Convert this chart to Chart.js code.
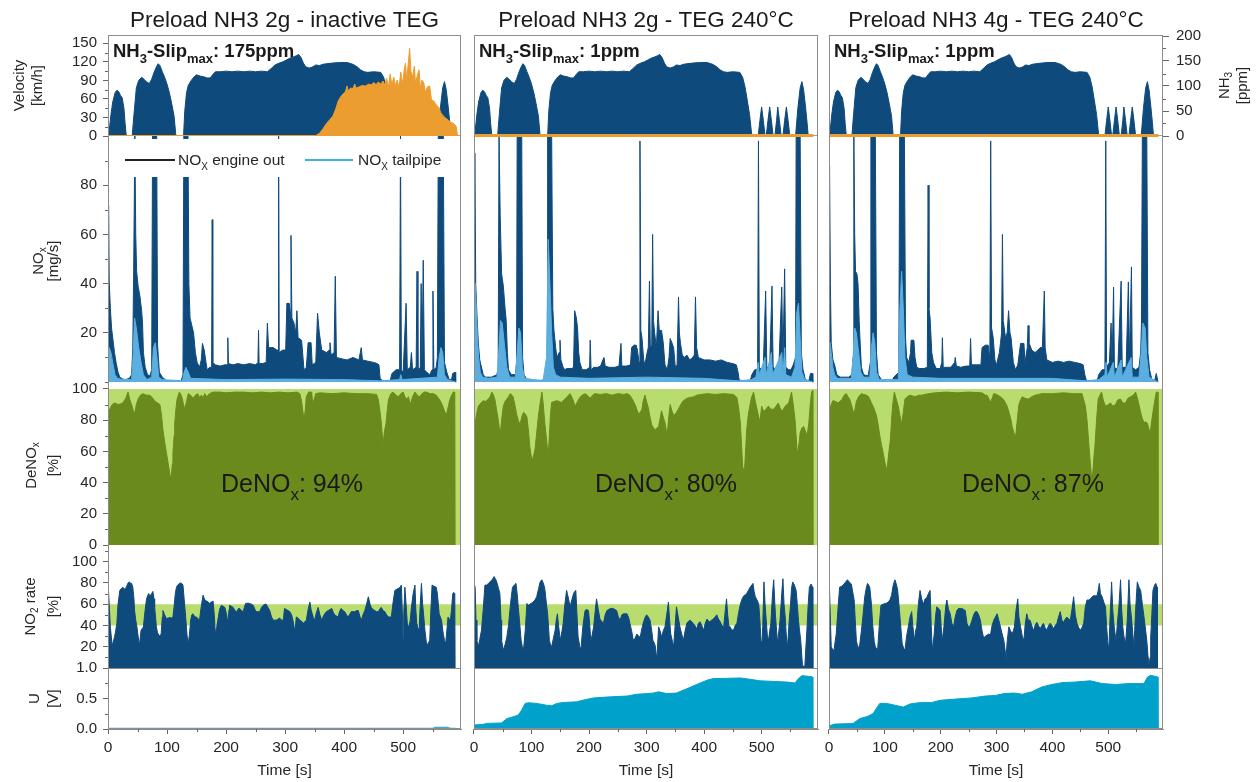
<!DOCTYPE html>
<html>
<head>
<meta charset="utf-8">
<script src="https://cdn.jsdelivr.net/npm/chart.js@4.4.1/dist/chart.umd.min.js"></script>
<style>
  html, body { margin: 0; padding: 0; background: #fff; }
  #wrap { position: relative; width: 1260px; height: 782px; overflow: hidden; }
  #wrap canvas { position: absolute; left: 0; top: 0; }
</style>
</head>
<body>
<div id="wrap">
  <canvas id="c1" width="1260" height="782"></canvas>
  <canvas id="c2" width="1260" height="782"></canvas>
  <canvas id="c3" width="1260" height="782"></canvas>
</div>
<script>
// ---- data: [time s, value] ----
const titles = ['Preload NH3 2g - inactive TEG', 'Preload NH3 2g - TEG 240°C', 'Preload NH3 4g - TEG 240°C'];
const deNOxMean = ['94%', '80%', '87%'];

const timeTicks = [0, 100, 200, 300, 400, 500];
const timeMinor = [50, 150, 250, 350, 450, 550];
const velTicks = [0, 30, 60, 90, 120, 150];
const velMinor = [15, 45, 75, 105, 135];
const noxTicks = [20, 40, 60, 80];
const noxMinor = [0, 10, 30, 50, 70, 90];
const deNOxTicks = [0, 20, 40, 60, 80, 100];
const deNOxMinor = [10, 30, 50, 70, 90];
const no2Ticks = [20, 40, 60, 80, 100];
const no2Minor = [10, 30, 50, 70, 90, 110];
const uTicks = [0, 0.5, 1.0];
const uMinor = [0.25, 0.75];
const nh3Ticks = [0, 50, 100, 150, 200];
const nh3Minor = [25, 75, 125, 175];
const no2Window = [40, 60];

// vehicle speed, km/h (same drive cycle for every test)
const velocity = [
  [0,0],[2,8],[5,35],[8,55],[12,70],[15,74],[18,72],[21,66],[24,62],[27,45],[29,20],[31,0],
  [41,0],[44,35],[48,78],[52,90],[57,95],[61,92],[65,88],[70,85],[74,92],[78,103],[82,112],[85,117],[88,114],[92,104],[96,95],[100,84],[104,70],[108,52],[112,32],[115,0],
  [128,0],[130,40],[133,70],[136,82],[141,90],[146,96],[150,99],[156,97],[162,96],[168,94],[173,94],[178,100],[182,104],[190,104],[200,105],[210,104],[220,105],[230,104],[240,105],[250,104],[260,105],[270,104],[276,109],[283,115],[290,118],[296,120],[302,123],[308,126],[314,128],[319,130],[323,132],[327,127],[331,118],[335,112],[341,110],[347,112],[352,115],[358,114],[364,116],[370,117],[380,118],[392,119],[405,119],[415,116],[422,112],[428,107],[434,104],[440,103],[450,104],[462,103],[467,95],[471,80],[475,58],[479,35],[483,0],
  [494,0],[497,25],[500,47],[503,25],[506,0],
  [508,0],[511,25],[514,47],[517,25],[520,0],
  [523,0],[526,25],[528,47],[531,25],[534,0],
  [537,0],[540,25],[543,47],[546,25],[549,0],
  [559,0],[563,45],[567,78],[570,88],[573,75],[576,50],[579,22],[581,0],[598,0]
];

// NH3 slip, ppm
const nh3Slip1 = [
  [0,1],[352,1],[358,5],[364,14],[370,25],[376,33],[381,40],[386,55],[390,70],[394,78],[398,84],[402,88],[405,100],[407,90],[411,96],[415,95],[418,104],[420,96],[425,98],[430,101],[436,100],[442,104],[446,102],[450,107],[454,103],[458,108],[462,104],[466,110],[469,102],[472,116],[475,98],[478,124],[481,102],[484,118],[487,100],[490,112],[493,96],[496,128],[499,104],[502,134],[504,146],[506,112],[509,150],[511,175],[513,130],[516,118],[519,140],[521,104],[524,122],[527,132],[529,96],[532,112],[535,106],[538,86],[541,98],[545,100],[548,72],[552,70],[556,62],[560,58],[564,46],[568,40],[572,36],[576,32],[580,28],[584,26],[588,22],[590,18],[592,1],[598,1]
];
const nh3Slip2 = [[0,1],[590,1]];
const nh3Slip3 = [[0,1],[590,1]];

// NOx mass flow, mg/s
const noxEngine1 = [
  [0,40],[1,72],[2,41],[4,30],[6,22],[8,18],[11,12],[14,7.5],[17,4],[20,2],[25,1.2],[30,1],[36,1.5],[40,3],[42,14],[43.5,45],[45.5,100],[47,60],[48.5,45],[51,39],[54,35],[57,29],[58.5,24],[60,12],[63,6],[67,3],[71,2.5],[74,5],[75.5,100],[82.5,100],[84,15],[87,4],[92,2],[99,0.6],[110,0.5],[124,0.5],[127,3],[128.5,100],[135.5,100],[137,40],[139,26],[142,23],[145,20],[148,12],[151,8],[155,6],[158,9],[160,15.7],[163,13],[166,8],[168,5],[172,6],[175.5,6],[176.5,66],[177.5,8],[182,7],[190,6.5],[198,7],[202,7],[203,18],[204,7.5],[212,7],[220,7.5],[230,7],[240,7.5],[250,7],[254,8],[255,21],[256,7.5],[262,7.5],[268,8],[270,24],[272,14],[280,14],[286,13],[288,13],[289,100],[290,12],[296,13],[301,13],[303,32],[307,32],[309,28],[310,59.6],[311.5,26],[315,24],[318,20],[320,29],[322,18],[328,17],[332,5],[336,6],[339,16],[344,16],[346,7],[352,8],[355,28],[358,20],[362,13],[370,12],[375,13],[376,16],[378,11],[383,12],[385,43],[387,10],[395,9.5],[405,9],[415,10],[425,9],[429,14],[431,9],[440,8.5],[450,8],[456,7.5],[459,7],[461,1.5],[465,0.5],[478,0.5],[481,3.5],[488,5],[494,5],[495.5,100],[497,5],[500,4],[505,32],[507,5],[512,6],[514,12],[516,5],[522,6],[523.5,45],[525,5],[529,6],[530.5,40],[532,8],[534,49.5],[536,5],[540,4],[545,3],[549,5],[550.5,37],[552,5],[556,6],[558,10],[559.5,100],[568,100],[570,8],[574,4],[578,1],[582,1],[584,3.5],[588,4],[589,0]
];
const noxTail1 = [
  [0,10],[2,14],[5,12],[8,8],[12,3],[16,1.5],[25,1],[40,1],[42,8],[45,26],[48,22],[52,14],[56,8],[60,3],[66,1],[74,2],[77,14],[80,16],[83,10],[86,2],[92,1],[126,0.5],[129,4],[132,6],[136,4],[140,1.5],[200,1],[300,1.2],[400,1],[460,0.5],[494,1],[496,3],[498,1],[558,2],[561,10],[564,14],[567,12],[570,3],[575,1],[589,0]
];
const noxEngine2 = [
  [0,30],[1.5,93],[3,40],[5,28],[7.5,16],[10,9],[12,7],[16,3],[20,2],[30,2],[35,2.5],[40,3],[42,6],[43.5,100],[45.5,68],[48,44],[51,39],[54,30],[56,25],[58,12],[60,5],[65,3],[72,3],[74,8],[75,100],[83,100],[84.5,10],[87,3],[92,1],[100,0.7],[120,0.7],[124,3],[127,8],[128,100],[135,100],[137,30],[139,21],[142,14],[144,10],[148,12],[149.5,17],[151,9],[155,6],[158,5],[161,5.5],[165,5.5],[170,5.5],[173,6],[175,29],[178,26],[180,22],[182,12],[184,8],[188,5],[195,5],[201,6],[202,17],[203.5,5],[208,6],[215,6],[220,6.5],[224,9],[226,10],[228,6.5],[235,6],[245,6],[252,6.5],[255.5,15.7],[257,6.5],[265,6.5],[272,7],[274,14],[278,15],[282,15],[284,13],[287,8],[288.5,98],[290,21],[292,18],[295,9],[297,7],[301,12],[303,14],[305,41],[306.5,14],[309,15],[310.5,60],[312,25],[314,20],[317,14],[320,29],[322,21],[326,21],[329,16],[332,7],[336,5],[339,10],[341,17.7],[344,16],[347,14],[350,6],[353,7],[355.5,34.6],[357,20],[359,15.7],[362,11],[366,10],[370,11],[375,9],[380,10],[383,11],[385,34.6],[387,14],[390,10],[400,9],[410,9],[420,8.5],[430,9],[440,8],[450,7.5],[456,7],[459,4],[461,0.8],[470,0.5],[480,0.5],[483,3],[488,5],[493,5],[494.5,98],[496,6],[500,5],[503,7],[507,37],[509,6],[514,6],[518,39],[520,6],[526,5],[530,6],[535,38.6],[537,8],[540,46],[542,6],[547,5],[551,5],[555,7],[559,10],[560,100],[567,100],[569,12],[572,5],[576,1],[582,0.5],[585,3.5],[588,3.5],[589,0]
];
const noxTail2 = [
  [0,38],[2,40],[4,30],[6,18],[8,10],[11,4],[15,2],[25,1.5],[40,2],[43,12],[46,25],[49,24],[53,15],[57,6],[62,2],[72,2],[75,12],[78,22],[81,20],[84,6],[88,1.5],[120,0.5],[126,10],[129,58],[132,40],[135,20],[138,6],[142,3],[150,2],[200,1.5],[300,2],[400,1.5],[460,0.5],[482,1],[490,2],[494,8],[496,3],[506,10],[508,3],[517,12],[519,3],[535,12],[537,3],[540,14],[542,3],[552,2],[558,6],[561,28],[564,32],[567,18],[570,4],[575,1],[589,0]
];
const noxEngine3 = [
  [0,30],[1,88],[2.5,40],[4,16],[7,9],[10,7],[14,3],[20,2],[35,2],[41,3],[43,10],[44.5,100],[46,60],[47.5,45],[50,44],[52,40],[54,25],[56,15],[58,6],[62,3],[70,2.5],[74,8],[75,100],[83,100],[85,12],[88,3],[95,0.6],[113,0.6],[116,2],[125,4],[126.5,100],[135,100],[137,18],[139,10],[143,8],[146,12],[147,17],[152,17],[154,10],[157,6],[162,5.5],[170,5.5],[176,6],[177.5,80],[179,30],[181,26],[184,12],[187,8],[192,5.5],[199,5.5],[202,8],[203,18],[204.5,6],[210,6],[218,6],[225,8],[226,10],[228,6.5],[236,6],[245,6.5],[252,6.5],[253.5,17.7],[255,7],[264,7],[272,7],[274,14],[280,15],[285,15],[288,9],[289.5,98],[291,22],[294,18],[297,9],[300,7],[305,12],[307,15.7],[309,20],[310.5,60],[312,25],[316,18],[319,20],[321.5,29],[324,20],[326,18],[330,8],[334,5],[338,7],[343,15.7],[349,15.7],[351,8],[355,14],[356.5,23],[358,16],[363,13],[369,12],[374,13],[378,14],[382,14],[385.5,37],[387,14],[390,9],[400,8],[410,8.5],[420,8],[430,8.5],[440,8],[450,7.5],[455,7],[458,3],[461,0.5],[480,0.5],[483,3],[489,5],[494,5],[495.5,98],[497,6],[502,8],[505,24],[507,8],[509.5,38.6],[511,6],[517,5],[523,41],[525,6],[532,6],[536,40.7],[538,9],[541.5,46.8],[543,6],[549,5],[555,6],[558,12],[559.5,24],[561,100],[569,100],[571,12],[574,5],[578,1],[583,0.5],[586,3.5],[589,0]
];
const noxTail3 = [
  [0,14],[2,16],[4,12],[7,6],[10,3],[15,1.5],[40,1.5],[43,10],[46,22],[49,20],[53,12],[57,4],[62,2],[73,2],[76,14],[79,20],[82,16],[85,4],[90,1],[124,1],[127,30],[130,45],[133,30],[136,10],[140,3],[150,2],[200,1.5],[300,1.5],[400,1.5],[460,0.5],[483,1],[494,3],[496,8],[498,2],[509,8],[511,2],[523,9],[525,2],[541,10],[543,2],[555,2],[559,12],[562,24],[566,22],[569,10],[573,2],[589,0]
];

// NOx conversion, %
const deNOx1 = [
  [0,86],[3,87],[7,90],[11,91],[18,90],[25,91],[30,94],[34,98],[37,93],[40,90],[43,86],[45,84],[48,90],[51,93.5],[55,96],[59,97],[65,96],[71,96],[76,94],[79,92.5],[84,91],[88,90],[91,82],[93,74],[96,66],[99,59],[102,52],[105,45],[107,43],[109,52],[110,59],[112,70],[113,78],[115,87],[117,93.5],[121,98],[124,96],[126,93.5],[128,90],[130,87],[133,92],[136,97],[140,96],[144,94],[148,96],[152,97],[155,94.6],[158,96],[161,94.6],[164,97],[167,95],[172,97],[178,98],[190,98],[200,97.5],[215,98],[230,98],[245,97.5],[260,98],[275,97.5],[290,98],[305,97.5],[320,98],[325,97],[328,92],[330,86],[332,80.6],[334,86],[336,95],[340,98],[345,98],[347,90],[349,93],[352,97],[359,97.5],[380,97],[400,97.5],[420,97],[440,97],[455,96.5],[458,93],[461,85],[463,78.5],[466,63.4],[468,72],[471,78],[473,86],[475,93],[479,97],[483,98],[488,96],[492,95],[496,97],[500,98],[503,95],[506,93.5],[509,95],[512,90],[516,95],[520,98],[524,96],[528,95],[532,97],[536,98],[540,98],[545,97],[551,97],[556,96],[562,93],[566,90],[570,86],[573,83],[576,88],[579,93],[582,96],[585,98],[587.5,98],[588,0]
];
const deNOx2 = [
  [0,70],[2,78.5],[5,85],[7.5,89],[12,91],[16,92.5],[20,92],[25,93.5],[28,95],[31,98],[34,96],[36.5,93],[40,85],[42,80.6],[44,75],[46,72],[48,80],[51,89],[54,92],[57,93.5],[60,95],[63,97],[66,96],[68,95],[71,90],[74,84],[77,80],[80,77],[83,82],[86,85],[89,84],[92,82],[95,72],[97,63],[99,58],[101,54],[104,58],[106,61],[109,72],[112,83],[115,91],[118,98],[120,92],[123,78.5],[126,68],[129,57],[131,70],[133,84],[135,91.4],[140,92],[144,92.5],[148,92],[152,91.4],[156,93],[161,94.6],[164,96],[167,97],[171,94],[174,91],[176,89],[180,92],[184,94.6],[188,96],[193,97],[197,96],[202,94],[206,96],[210,97],[220,96.5],[230,97],[240,96],[250,97],[260,96.5],[266,97],[271,96],[276,93],[280,90],[283,87],[286,84],[289,85],[292,87],[294,92],[297,96],[300,92],[303,88],[306,82],[309,77],[312,75],[315,74],[318,75],[321,76],[324,82],[326,86],[329,82],[332,78.5],[334,74],[336,71],[338,80],[341,90],[344,86],[347,83],[350,84],[352,85],[355,87],[358,89],[361,91],[364,92.5],[370,94],[376,94.6],[382,95],[387,96],[395,96.5],[405,97],[420,96.5],[435,97],[451,96.5],[457,94.6],[460,88],[463,78.5],[465,65],[467,50.5],[470,46],[472,60],[474,74],[477,84],[479,88],[482,94],[486,98],[489,92],[492,87],[495,82],[497,78.5],[500,89],[503,86],[506,86],[509,88],[512,89],[516,87],[521,87],[525,89],[529,91],[532,88],[535,86],[538,87],[541,89],[544,90],[547,91],[550,95],[552,98],[555,90],[558,80.6],[560,70],[562,58],[565,65],[567,72],[570,75],[573,76],[576,73],[579,70],[582,78],[585,92],[587,98],[588.5,99],[589,0]
];
const deNOx3 = [
  [0,80],[1,86],[4,90],[7,92.5],[12,92],[16,91],[19,92],[23,93],[27,96],[31,97],[34,95],[37,93.5],[40,90],[43,86],[45,84],[47,88],[49,92],[53,95],[58,97],[62,96.5],[67,96],[71,95],[76,91],[80,88],[85,83],[88,77],[91,70],[94,64],[97,59],[100,53],[103,48],[105,52],[107,59],[110,68],[112,80],[114,90],[117,98],[120,94],[124,89],[127,83],[130,77.4],[133,85],[136,93.5],[140,95],[145,96],[150,95.5],[154,95],[160,96],[166,96],[172,96.5],[178,97],[190,97.5],[210,98],[230,97.5],[250,98],[274,97.5],[280,96],[283,96],[286,94],[289,91.4],[292,94],[295,97],[300,96.5],[307,95],[313,93],[319,89],[323,84],[326,80],[328,76],[331,72],[334,69],[337,80],[340,90],[343,93],[346,95],[351,94],[357,93.5],[363,95],[369,96],[375,96.5],[381,97],[400,97],[420,97.5],[440,97],[453,97],[456,93],[459,89],[462,80],[465,65.6],[468,52],[471,40],[474,55],[476,63],[479,80],[482,93.5],[485,96],[488,98],[491,93],[495,89],[500,90],[504,91],[508,89],[513,90],[517,93],[522,93.5],[526,91],[531,91],[535,94],[540,95],[545,96],[549,98],[553,93],[558,85],[561,81],[564,78.5],[567,79],[570,78],[573,74],[575,72],[578,80],[580,85],[583,92],[586,98],[588.5,98],[589,0]
];

// NO2 share of NOx, %
const no2Rate1 = [
  [0,81],[1,81],[2.5,55],[4,38.7],[7,21],[9,25],[11,29],[13,35],[15,42],[17,60],[20,73],[23,75],[25,76],[28,74],[31,76],[34,80],[36,81],[38,80],[40,79.6],[42,76],[44,65],[45,54],[47,45],[49,38.7],[51,30],[53,21],[55,30],[56,35.5],[58,37],[60,38.7],[62,50],[65,64],[67,68],[69,70],[71,68],[73,69],[76,72],[78,65],[79,57.5],[81,45],[82,38.7],[84,33],[86,31],[88,30],[90,32],[92,48],[93,54],[96,50],[99,46.5],[102,47],[105,47.5],[108,47],[110,48],[112,58],[114,70],[116,76],[118,78],[121,79.6],[124,80],[127,78],[129,65],[132,45],[134,30],[136,23],[138,32],[140,45],[142,50],[144,51],[147,48],[150,48],[153,46],[155,45],[158,58],[161,68.5],[164,64],[167,63],[170,62],[172,60.7],[175,62],[178,63],[180,50],[182,32],[184,38],[186,45],[189,55],[192,59],[195,58],[198,57],[201,50],[203,42],[205,55],[206,59],[209,58],[212,57],[215,54],[218,53],[221,56],[223,56],[226,54],[229,53],[231,57],[233,60.7],[237,61],[240,60.7],[243,60],[246,59],[249,55],[251,53],[254,53],[257,53],[260,57],[263,59],[266,60],[268,60],[271,57],[274,54],[277,48],[280,45],[283,45],[285,45],[288,46],[291,47],[294,45],[297,45],[299,56],[302,55],[305,54],[308,53],[311,50],[314,43],[316,35.5],[318,42],[319,48],[322,47],[325,45],[328,44],[331,42],[334,44],[336,45],[339,55],[342,62],[344,55],[346,51],[348,47],[350,45],[353,52],[356,57],[359,50],[362,45],[365,49],[367,51],[370,53],[373,54],[376,55],[379,56],[382,52],[384,50],[387,49],[390,48],[392,53],[395,56],[398,54],[401,53],[404,50],[407,48],[410,51],[412,53],[415,53],[418,53],[421,54],[424,54],[427,48],[429,45],[432,50],[435,54],[438,60],[441,67],[444,60],[446,57],[449,55],[452,54],[455,53],[458,53],[461,56],[463,57],[466,54],[469,53],[472,50],[475,48],[478,48],[480,48],[483,62],[486,73],[489,74],[492,75],[495,76],[497,78],[499,45],[500,26],[501,50],[503,76],[505,60],[507,42],[510,38],[512,45],[514,57],[517,70],[520,78],[521.5,55],[523,42],[525,38],[527,35.5],[529,60],[531,79.6],[533,60],[535,48],[537,35],[540,21],[543,24],[545,26],[547,55],[549,78],[552,77],[556,76],[558,70],[561,51],[563,48],[565,45],[567,36],[568,32],[570,26],[572,23],[574,35],[576,48],[578,46],[580,45],[582,55],[584,70],[586,71],[587.5,70],[588,0]
];
const no2Rate2 = [
  [0,80],[2,76],[3.5,45],[5,26],[7.5,20],[10,27],[13,35.5],[16,55],[19,78],[22,78],[25,79.6],[28,81],[31,83],[33,84],[35,86],[37,84],[39,82],[41,78],[43,74],[45,70],[47,45],[48,26],[51,16.7],[54,22],[57,29],[60,40],[63,57.5],[65,68],[67,76],[70,78],[73,79.6],[75,70],[77,57],[79,45],[82,26],[84,20],[86,16.7],[89,35],[92,60.7],[95,59],[97,60],[100,61],[103,62],[106,64],[109,67],[112,74],[115,81],[118,83],[121,79],[123,75],[126,60],[128,51],[130,35],[131,26],[133,22],[135,20],[138,28],[141,35.5],[143,45],[145,51],[147,40],[150,26],[153,35],[155,42],[158,60],[161,73],[164,66],[167,57.5],[170,64],[173,70],[175,72],[177,73],[179,50],[181,29],[184,20],[186,18],[189,38],[193,54],[196,55],[199,54],[201,42],[203,26],[205,30],[208,38.7],[211,55],[213,65],[216,55],[219,46],[222,44],[225,42],[228,50],[231,54],[234,55],[237,56],[240,56],[242,56],[245,55],[248,54],[251,48],[254,45],[257,50],[260,51],[263,51],[266,51],[269,47],[271,42],[274,35],[277,26],[280,28],[283,32],[286,30],[289,29],[291,35],[294,42],[297,47],[300,50],[303,48],[306,45],[309,35],[311,26],[313,24],[315,21],[317,12],[318,7],[319,20],[321,38.7],[324,34],[326,29],[329,35],[332,38.7],[335,50],[338,62],[340,45],[342,32],[345,25],[347,20],[349,35],[352,57.5],[355,48],[358,38.7],[361,32],[364,26],[367,35],[370,42],[373,44],[376,45],[379,43],[381,42],[384,40],[387,37],[390,42],[393,43.5],[396,40],[399,35.5],[402,42],[405,46],[408,44],[410,43.5],[413,45],[416,46],[419,48],[422,50],[425,46],[428,43.5],[431,40],[434,38.7],[437,55],[439,65],[441,50],[443,40],[445,38.7],[448,36],[451,35.5],[454,40],[457,42],[460,52],[463,60],[466,65],[469,68],[472,69],[474,70],[477,73],[480,76],[483,78],[485,79.6],[487,72],[489,67],[492,64],[495,60],[497,45],[499,25],[500,16.7],[502,40],[504,81],[506,60],[508,45],[510,30],[512,26],[514,35],[516,42],[519,70],[521,83],[523,60],[524,50],[526,35],[528,23],[530,35],[532,45],[535,70],[537,84],[539,60],[541,48],[543,30],[545,20],[548,45],[550,57.5],[552,75],[554,81],[557,78],[560,73],[562,60],[564,45],[566,35],[568,26],[570,10],[571,2.5],[575,1],[577,20],[579,38.7],[581,60],[583,76],[586,79],[588.5,76],[589,0]
];
const no2Rate3 = [
  [0,70],[1,73],[2.5,45],[4,20],[7,17],[9,16.7],[11,25],[13,32],[16,55],[19,76],[23,77],[27,79],[30,81],[33,83],[36,81],[40,79],[43,70],[45,64],[47,45],[49,26],[52,18],[55,22],[58,35],[61,50],[64,67],[67,76],[69,79.6],[71,78],[73,76],[76,60],[78,42],[81,25],[83,20],[87,16.7],[90,40],[93,59],[97,60],[100,60.7],[103,61],[106,62],[109,64],[112,68.5],[115,78],[118,83],[121,78],[123,73],[126,55],[128,42],[131,23],[134,18],[136,17],[139,30],[142,38.7],[145,48],[148,53],[150,40],[153,26],[155,35],[157,38.7],[160,60],[163,73],[166,65],[169,60],[172,65],[175,66],[178,70],[181,73],[183,40],[185,16.7],[188,30],[191,50],[193,57.5],[196,56],[199,54],[201,38],[203,26],[206,40],[209,58],[211,64],[214,55],[217,51],[220,42],[223,38.7],[226,48],[229,54],[232,56],[235,56],[238,56],[241,55],[244,54],[247,42],[250,38.7],[253,40],[256,45],[259,50],[262,53],[265,53],[268,50],[271,45],[274,35],[277,28],[280,30],[283,31],[286,32],[289,31],[292,40],[295,45],[298,48],[301,51],[304,45],[307,38.7],[310,32],[313,26],[315,18],[317,9],[319,25],[322,38.7],[325,35],[328,32],[330,35],[332,38.7],[335,55],[338,65],[340,48],[343,38.7],[346,30],[349,26],[351,40],[354,51],[357,45],[360,45],[363,40],[366,35],[369,40],[372,43],[375,40],[378,37],[381,40],[384,42],[387,38],[390,35.5],[393,40],[396,42],[399,40],[402,37],[405,40],[408,42],[411,48],[414,53],[417,45],[420,43],[423,46],[426,48],[429,46],[432,45],[435,55],[438,67],[441,50],[444,42],[447,38],[450,35.5],[453,38],[456,42],[459,58],[462,64],[465,64],[468,65],[471,67],[474,68],[477,68],[480,68],[482,73],[484,79.6],[486,70],[489,67],[492,62],[495,57.5],[497,40],[499,25],[501,16.7],[503,45],[506,81],[508,55],[510,42],[512,33],[514,26],[516,40],[519,57.5],[522,83],[524,55],[526,38.7],[528,30],[531,23],[534,45],[537,83],[539,60],[542,45],[544,32],[546,20],[549,55],[552,81],[555,76],[558,73],[561,60],[564,48],[567,35],[569,26],[571,12],[573,2.5],[575,10],[576,29],[578,50],[580,73],[583,78],[585,79.6],[587.5,76],[588,0]
];

// TEG voltage, V
const uTeg1 = [[0,0.005],[550,0.005],[555,0.02],[575,0.02],[580,0.005],[589,0.005]];
const uTeg2 = [
  [0,0.065],[16,0.076],[22,0.092],[48,0.1],[57,0.17],[68,0.2],[77,0.23],[83,0.31],[89,0.42],[95,0.43],[109,0.42],[126,0.39],[135,0.38],[144,0.42],[155,0.435],[178,0.445],[193,0.48],[208,0.51],[237,0.527],[266,0.54],[283,0.57],[300,0.58],[312,0.59],[321,0.61],[335,0.58],[352,0.59],[370,0.66],[387,0.73],[405,0.8],[416,0.826],[439,0.83],[463,0.837],[480,0.815],[497,0.79],[521,0.78],[544,0.77],[558,0.755],[564,0.826],[570,0.875],[581,0.864],[588.5,0.853],[589,0]
];
const uTeg3 = [
  [0,0.05],[10,0.08],[43,0.09],[55,0.17],[70,0.21],[79,0.255],[85,0.34],[91,0.42],[103,0.42],[118,0.39],[133,0.36],[145,0.41],[160,0.43],[184,0.435],[199,0.47],[226,0.49],[256,0.51],[280,0.54],[298,0.55],[313,0.58],[331,0.59],[346,0.57],[363,0.61],[381,0.69],[399,0.73],[417,0.76],[441,0.77],[468,0.79],[489,0.745],[513,0.73],[537,0.745],[564,0.745],[570,0.85],[576,0.88],[588.5,0.853],[589,0]
];

// ---- styling ----
const FONT = '"Liberation Sans", Arial, Helvetica, sans-serif';
const DARK = '#0f4a7d';
const ORANGE = '#eb9d2f';
const TAIL = '#5aafe0';
const CYAN = '#00a2cb';
const OLIVE = '#6a8a1b';
const LIGHTGREEN = '#b8dd6e';
const FRAME = '#8c8c8c';
const TEXT = '#262626';
const T_MAX = 598;

const pts = arr => arr.map(([x, y]) => ({ x, y }));

function area(data, axis, color, order, extra) {
  return Object.assign({
    data: pts(data), yAxisID: axis, order,
    backgroundColor: color, borderColor: color, borderWidth: 1,
    fill: 'origin', pointRadius: 0, tension: 0
  }, extra || {});
}

function yAxis(o) {
  return {
    type: 'linear', position: 'left', stack: 'panels', stackWeight: o.h, weight: o.w,
    min: o.min, max: o.max,
    afterBuildTicks: s => { s.ticks = o.ticks.map(v => ({ value: v })); },
    afterFit: s => { s.width = o.width; },
    ticks: {
      display: o.labels, autoSkip: false, padding: 6, color: TEXT,
      font: { family: FONT, size: 15 }, callback: o.fmt || (v => String(v))
    },
    grid: { display: true, drawOnChartArea: false, drawTicks: o.labels, tickLength: 5, tickColor: '#666' },
    border: { display: true, color: FRAME }
  };
}

// draws a run of text pieces; pieces flagged true are subscripts
function rich(ctx, parts, x, y, size, weight, align, subScale) {
  const k = subScale || 0.66;
  const f = sub => `${weight} ${sub ? Math.round(size * k) : size}px ${FONT}`;
  let w = 0;
  parts.forEach(([t, sub]) => { ctx.font = f(sub); w += ctx.measureText(t).width; });
  let cx = align === 'center' ? x - w / 2 : x;
  parts.forEach(([t, sub]) => {
    ctx.font = f(sub);
    ctx.fillText(t, cx, y + (sub ? size * 0.3 : 0));
    cx += ctx.measureText(t).width;
  });
}

function vtitle(ctx, parts, cx, cy, size, angle) {
  ctx.save();
  ctx.translate(cx, cy);
  ctx.rotate(angle);
  ctx.textBaseline = 'middle';
  rich(ctx, parts, 0, 0, size, 'normal', 'center');
  ctx.restore();
}

const minorTicks = { yV: velMinor, yX: noxMinor, yD: deNOxMinor, yR: no2Minor, yU: uMinor };

function decorPlugin(col) {
  return {
    id: 'decor' + col.n,
    afterDatasetsDraw(chart) {
      const ctx = chart.ctx, a = chart.chartArea, s = chart.scales;
      ctx.save();
      if (col.legend) {
        const top = s.yX.top + 3;
        ctx.fillStyle = '#fff';
        ctx.fillRect(a.left + 1, top, a.right - a.left - 2, 38);
        const ly = top + 21;
        ctx.lineWidth = 2;
        ctx.strokeStyle = '#222';
        ctx.beginPath(); ctx.moveTo(125, ly); ctx.lineTo(175, ly); ctx.stroke();
        ctx.strokeStyle = '#3cb1e4';
        ctx.beginPath(); ctx.moveTo(305, ly); ctx.lineTo(353, ly); ctx.stroke();
        ctx.fillStyle = TEXT;
        ctx.textBaseline = 'alphabetic';
        rich(ctx, [['NO'], ['X', true], [' engine out']], 178, ly + 5, 15.5, 'normal');
        rich(ctx, [['NO'], ['X', true], [' tailpipe']], 358, ly + 5, 15.5, 'normal');
      }
      ctx.restore();
    },
    afterDraw(chart) {
      const ctx = chart.ctx, a = chart.chartArea, s = chart.scales;
      ctx.save();
      // outer frame and the line above the voltage panel
      ctx.strokeStyle = FRAME; ctx.lineWidth = 1;
      ctx.strokeRect(a.left + 0.5, a.top + 0.5, a.right - a.left - 1, a.bottom - a.top - 1);
      ctx.beginPath();
      ctx.moveTo(a.left, Math.round(s.yU.top) + 0.5); ctx.lineTo(a.right, Math.round(s.yU.top) + 0.5);
      ctx.stroke();

      // minor ticks
      ctx.strokeStyle = '#666';
      ctx.beginPath();
      timeMinor.forEach(v => {
        const x = Math.round(s.x.getPixelForValue(v)) + 0.5;
        ctx.moveTo(x, a.bottom); ctx.lineTo(x, a.bottom + 3);
      });
      if (col.labels) {
        Object.keys(minorTicks).forEach(id => {
          minorTicks[id].forEach(v => {
            const y = Math.round(s[id].getPixelForValue(v)) + 0.5;
            ctx.moveTo(a.left, y); ctx.lineTo(a.left - 3, y);
          });
        });
      }
      if (col.nh3Axis) {
        nh3Minor.forEach(v => {
          const y = Math.round(s.yN.getPixelForValue(v)) + 0.5;
          ctx.moveTo(a.right, y); ctx.lineTo(a.right + 3, y);
        });
      }
      ctx.stroke();

      ctx.fillStyle = '#1a1a1a';
      ctx.textBaseline = 'middle';
      rich(ctx, [[col.title]], (a.left + a.right) / 2, 21, 22.5, 'normal', 'center');

      // NH3 slip annotation, read from the plotted series
      ctx.textBaseline = 'alphabetic';
      const slip = Math.max(...col.nh3.map(p => p[1]));
      rich(ctx, [['NH'], ['3', true], ['-Slip'], ['max', true], [': ' + slip + 'ppm']], a.left + 5, 57, 18.5, 'bold', 'left', 0.72);

      // mean conversion
      rich(ctx, [['DeNO'], ['x', true], [': ' + col.deNOx]], col.deNOxX, 492, 25, 'normal');

      if (col.labels) {
        ctx.fillStyle = TEXT;
        const mid = id => (s[id].top + s[id].bottom) / 2;
        const L = -Math.PI / 2;
        vtitle(ctx, [['Velocity']], 20, mid('yV'), 15, L);
        vtitle(ctx, [['[km/h]']], 38, mid('yV'), 15, L);
        vtitle(ctx, [['NO'], ['x', true]], 39, mid('yX'), 15, L);
        vtitle(ctx, [['[mg/s]']], 54, mid('yX'), 15, L);
        vtitle(ctx, [['DeNO'], ['x', true]], 32, mid('yD'), 15, L);
        vtitle(ctx, [['[%]']], 54, mid('yD'), 15, L);
        vtitle(ctx, [['NO'], ['2', true], [' rate']], 31, mid('yR'), 15, L);
        vtitle(ctx, [['[%]']], 54, mid('yR'), 15, L);
        vtitle(ctx, [['U']], 35, mid('yU'), 15, L);
        vtitle(ctx, [['[V]']], 54, mid('yU'), 15, L);
      }
      if (col.nh3Axis) {
        ctx.fillStyle = TEXT;
        const cy = (s.yV.top + s.yV.bottom) / 2;
        vtitle(ctx, [['NH'], ['3', true]], 1225, cy, 15, -Math.PI / 2);
        vtitle(ctx, [['[ppm]']], 1243, cy, 15, -Math.PI / 2);
      }
      ctx.restore();
    }
  };
}

const columns = [
  { n: 1, canvas: 'c1', padLeft: 0, axisW: 108, padRight: 799, labels: true, legend: true, nh3Axis: false,
    title: titles[0], nh3: nh3Slip1, noxE: noxEngine1, noxT: noxTail1, deNOxData: deNOx1, no2: no2Rate1, u: uTeg1,
    deNOx: deNOxMean[0], deNOxX: 221 },
  { n: 2, canvas: 'c2', padLeft: 462, axisW: 12, padRight: 442, labels: false, legend: false, nh3Axis: false,
    title: titles[1], nh3: nh3Slip2, noxE: noxEngine2, noxT: noxTail2, deNOxData: deNOx2, no2: no2Rate2, u: uTeg2,
    deNOx: deNOxMean[1], deNOxX: 595 },
  { n: 3, canvas: 'c3', padLeft: 817, axisW: 12, padRight: 37, labels: false, legend: false, nh3Axis: true,
    title: titles[2], nh3: nh3Slip3, noxE: noxEngine3, noxT: noxTail3, deNOxData: deNOx3, no2: no2Rate3, u: uTeg3,
    deNOx: deNOxMean[2], deNOxX: 962 }
];

columns.forEach(col => {
  const thinNh3 = col.n !== 1;
  const datasets = [
    area(col.nh3, 'yN', ORANGE, 0, thinNh3 ? { fill: false, borderWidth: 3 } : {}),
    area(velocity, 'yV', DARK, 1),
    area(col.noxT, 'yX', TAIL, 0),
    area(col.noxE, 'yX', DARK, 1),
    area(col.deNOxData, 'yD', OLIVE, 1),
    area([[0, 100], [T_MAX, 100]], 'yD', LIGHTGREEN, 2, { borderWidth: 0 }),
    area(col.no2, 'yR', DARK, 1),
    area([[0, no2Window[1]], [T_MAX, no2Window[1]]], 'yR', LIGHTGREEN, 2, { fill: { value: no2Window[0] }, borderWidth: 0 }),
    area(col.u, 'yU', col.n === 1 ? '#3aa9d6' : CYAN, 1, col.n === 1 ? { borderWidth: 2 } : {})
  ];

  const W = col.axisW, lab = col.labels;
  const scales = {
    x: {
      type: 'linear', position: 'bottom', min: 0, max: T_MAX,
      afterBuildTicks: s => { s.ticks = timeTicks.map(v => ({ value: v })); },
      afterFit: s => { s.height = 53; },
      ticks: { autoSkip: false, maxRotation: 0, padding: 4, color: TEXT, font: { family: FONT, size: 15.5 } },
      grid: { drawOnChartArea: false, tickLength: 5, tickColor: '#666' },
      border: { color: FRAME },
      title: { display: true, text: 'Time [s]', color: TEXT, font: { family: FONT, size: 15.5 }, padding: { top: 0, bottom: 2 } }
    },
    yV: yAxis({ h: 101, w: 5, min: 0, max: 163.5, ticks: velTicks, width: W, labels: lab }),
    yX: yAxis({ h: 250, w: 4, min: -1.6, max: 100, ticks: noxTicks, width: W, labels: lab }),
    yD: yAxis({ h: 159, w: 3, min: 0, max: 101.9, ticks: deNOxTicks, width: W, labels: lab }),
    yR: yAxis({ h: 123, w: 2, min: 0, max: 115.7, ticks: no2Ticks, width: W, labels: lab }),
    yU: yAxis({ h: 61, w: 1, min: 0, max: 1.0, ticks: uTicks, width: W, labels: lab, fmt: v => v.toFixed(1) }),
    yN: {
      type: 'linear', position: 'right', min: -1186, max: 202, display: col.nh3Axis,
      afterBuildTicks: s => { s.ticks = nh3Ticks.map(v => ({ value: v })); },
      afterFit: s => { s.width = col.nh3Axis ? 60 : 0; },
      ticks: { autoSkip: false, padding: 7, color: TEXT, font: { family: FONT, size: 15 } },
      grid: { drawOnChartArea: false, tickLength: 6, tickColor: '#666' },
      border: { display: false }
    }
  };

  new Chart(document.getElementById(col.canvas), {
    type: 'line',
    data: { datasets },
    options: {
      responsive: false, animation: false, devicePixelRatio: 1, events: [],
      layout: { padding: { left: col.padLeft, right: col.padRight, top: 35, bottom: 0 } },
      plugins: { legend: { display: false }, tooltip: { enabled: false }, title: { display: false } },
      scales
    },
    plugins: [decorPlugin(col)]
  });
});
</script>
</body>
</html>
